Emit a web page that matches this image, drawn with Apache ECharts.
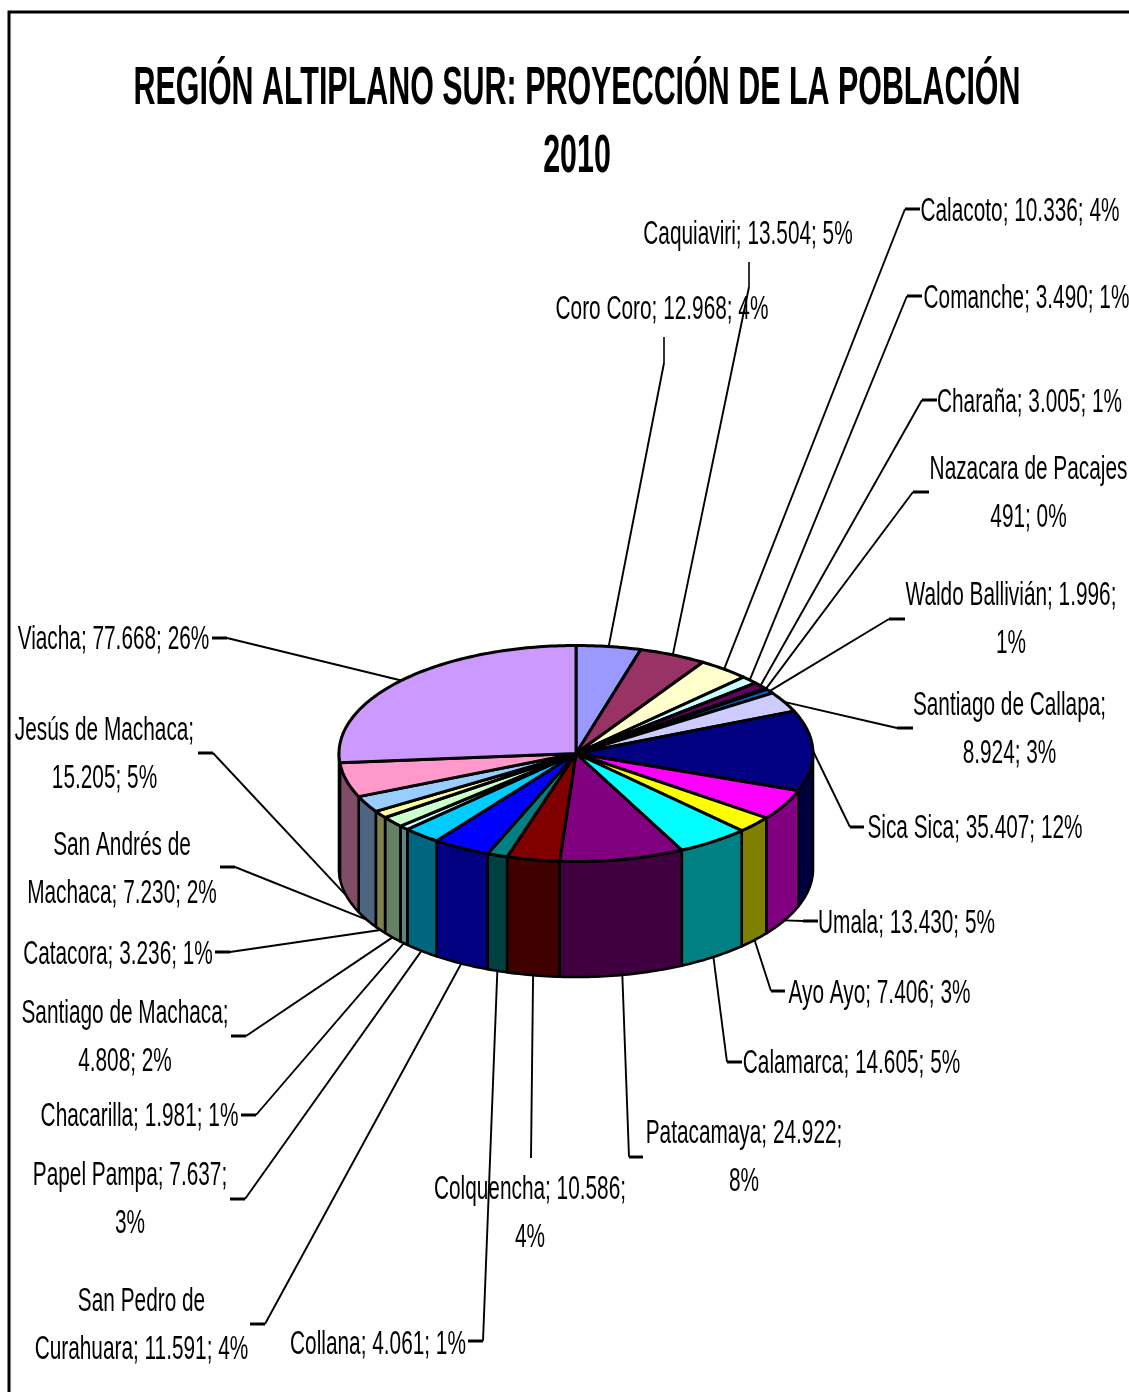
<!DOCTYPE html>
<html>
<head>
<meta charset="utf-8">
<style>html,body{margin:0;padding:0;background:#fff}#c{width:1129px;height:1392px}</style>
<script src="https://cdn.jsdelivr.net/npm/echarts@6/dist/echarts.min.js"></script>
</head>
<body>
<div id="c"></div>
<script>
// ---- data (clockwise from 12 o'clock) ----
const titleLines = ['REGIÓN ALTIPLANO SUR: PROYECCIÓN DE LA POBLACIÓN', '2010'];
const municipios = ['Coro Coro','Caquiaviri','Calacoto','Comanche','Charaña','Nazacara de Pacajes','Waldo Ballivián','Santiago de Callapa','Sica Sica','Umala','Ayo Ayo','Calamarca','Patacamaya','Colquencha','Collana','San Pedro de Curahuara','Papel Pampa','Chacarilla','Santiago de Machaca','Catacora','San Andrés de Machaca','Jesús de Machaca','Viacha'];
const poblacion = [12968,13504,10336,3490,3005,491,1996,8924,35407,13430,7406,14605,24922,10586,4061,11591,7637,1981,4808,3236,7230,15205,77668];
const etiquetas = [
  'Coro Coro; 12.968; 4%','Caquiaviri; 13.504; 5%','Calacoto; 10.336; 4%','Comanche; 3.490; 1%','Charaña; 3.005; 1%',
  'Nazacara de Pacajes\n491; 0%','Waldo Ballivián; 1.996;\n1%','Santiago de Callapa;\n8.924; 3%','Sica Sica; 35.407; 12%','Umala; 13.430; 5%',
  'Ayo Ayo; 7.406; 3%','Calamarca; 14.605; 5%','Patacamaya; 24.922;\n8%','Colquencha; 10.586;\n4%','Collana; 4.061; 1%',
  'San Pedro de\nCurahuara; 11.591; 4%','Papel Pampa; 7.637;\n3%','Chacarilla; 1.981; 1%','Santiago de Machaca;\n4.808; 2%','Catacora; 3.236; 1%',
  'San Andrés de\nMachaca; 7.230; 2%','Jesús de Machaca;\n15.205; 5%','Viacha; 77.668; 26%'];
const colores = ['#9999FF','#993366','#FFFFCC','#CCFFFF','#660066','#FF8080','#0066CC','#CCCCFF','#000080','#FF00FF','#FFFF00','#00FFFF','#800080','#800000','#008080','#0000FF','#00CCFF','#CCFFFF','#CCFFCC','#FFFF99','#99CCFF','#FF99CC','#CC99FF'];

// ---- layout ----
const CX = 576, CY = 753.5, RX = 237, RY = 108, DEPTH = 115.5;
const labelCentre = [[662,310],[748,235],[1020,212],[1026.5,299],[1029.5,403],[1028.5,494],[1011,620],[1009.5,730],[975,829],[906.5,924],[879.5,994],[851.5,1064],[744,1158],[530,1214],[378,1345],[141.5,1326],[130,1200],[139.5,1117],[125,1038],[118,955],[122,870],[104.5,755],[113.5,640]];
const leaderStart = [[664,337],[749,262],[920,209],[922,296],[937,400],[929,492],[905,619],[913,728],[864,827],[818,921],[785,991],[742,1062],[643,1157],[531,1158],[468,1341],[250,1324],[230,1199],[241,1115],[231,1036],[215,952],[220,867],[198,753],[212,638]];
const leaderElbow = [[664,363],[749,287],[905,209],[907,296],[922,400],[913,492],[889,619],[897,728],[850,827],[803,921],[771,991],[727,1062],[629,1157],[531,1158],[483,1341],[265,1324],[245,1199],[256,1115],[246,1036],[230,952],[235,867],[213,753],[227,638]];
const LABEL_FONT = '34px "Liberation Sans", Arial, sans-serif', LABEL_SCALE = 0.612, LABEL_LH = 48;
const TITLE_FONT = 'bold 54px "Liberation Sans", Arial, sans-serif', TITLE_SCALE = 0.5635;

// ---- rows built from the arrays: value, running total ----
const total = poblacion.reduce((a, b) => a + b, 0);
let acum = 0;
const filas = poblacion.map((v, i) => { const row = [v, acum, i]; acum += v; return row; });

const rad = d => d * Math.PI / 180;
const edge = (deg, dy) => [CX + RX * Math.sin(rad(deg)), CY - RY * Math.cos(rad(deg)) + (dy || 0)];
function arc(a, b, dy) {
  const pts = [], n = Math.max(1, Math.ceil(Math.abs(b - a) / 1));
  for (let k = 0; k <= n; k++) pts.push(edge(a + (b - a) * k / n, dy));
  return pts;
}
function darker(hex) {
  const n = parseInt(hex.slice(1), 16);
  const c = s => Math.round(((n >> s) & 255) * 0.5);
  return 'rgb(' + c(16) + ',' + c(8) + ',' + c(0) + ')';
}
const angles = api => {
  const a = api.value(1) / total * 360, b = (api.value(1) + api.value(0)) / total * 360;
  return [a, b];
};

const option = {
  animation: false,
  backgroundColor: '#fff',
  graphic: { elements: [
    { type: 'polyline', silent: true, shape: { points: [[9, 1400], [9, 12], [1140, 12]] }, style: { stroke: '#000', lineWidth: 3, fill: null } },
    { type: 'text', silent: true, x: 577, y: 89, scaleX: TITLE_SCALE, style: { text: titleLines[0], font: TITLE_FONT, fill: '#000', align: 'center', verticalAlign: 'middle' } },
    { type: 'text', silent: true, x: 577, y: 157, scaleX: TITLE_SCALE, style: { text: titleLines[1], font: TITLE_FONT, fill: '#000', align: 'center', verticalAlign: 'middle' } }
  ] },
  series: [
    { // leader lines
      type: 'custom', coordinateSystem: 'none', data: filas, silent: true, z: 1,
      renderItem(params, api) {
        const [a, b] = angles(api), i = api.value(2), mid = (a + b) / 2;
        const end = edge(mid, mid > 90 && mid < 270 ? DEPTH : 0);
        const flat = leaderStart[i][1] === leaderElbow[i][1];
        return { type: 'group', children: [
          { type: 'polyline', shape: { points: [leaderStart[i], leaderElbow[i]] }, style: { stroke: '#000', lineWidth: flat ? 3 : 1.6, fill: null } },
          { type: 'polyline', shape: { points: [leaderElbow[i], end] }, style: { stroke: '#000', lineWidth: 1.9, fill: null } }
        ] };
      }
    },
    { // outer wall of the cylinder (front half only)
      type: 'custom', coordinateSystem: 'none', data: filas, silent: true, z: 2,
      renderItem(params, api) {
        const [a, b] = angles(api), i = api.value(2);
        const s = Math.max(a, 90), e = Math.min(b, 270);
        if (e <= s) return null;
        const pts = arc(s, e, 0).concat(arc(e, s, DEPTH));
        return { type: 'polygon', shape: { points: pts }, style: { fill: darker(colores[i]), stroke: '#000', lineWidth: 2.6, lineJoin: 'round' } };
      }
    },
    { // top face
      type: 'custom', coordinateSystem: 'none', data: filas, silent: true, z: 3,
      renderItem(params, api) {
        const [a, b] = angles(api), i = api.value(2);
        const pts = [[CX, CY]].concat(arc(a, b, 0));
        return { type: 'polygon', shape: { points: pts }, style: { fill: colores[i], stroke: '#000', lineWidth: 3, lineJoin: 'round' } };
      }
    },
    { // data labels
      type: 'custom', coordinateSystem: 'none', data: filas, silent: true, z: 4,
      renderItem(params, api) {
        const i = api.value(2);
        return { type: 'text', x: labelCentre[i][0], y: labelCentre[i][1], scaleX: LABEL_SCALE,
          style: { text: etiquetas[i], font: LABEL_FONT, lineHeight: LABEL_LH, fill: '#000', align: 'center', verticalAlign: 'middle' } };
      }
    }
  ]
};
echarts.init(document.getElementById('c'), null, { renderer: 'canvas' }).setOption(option);
</script>
</body>
</html>
